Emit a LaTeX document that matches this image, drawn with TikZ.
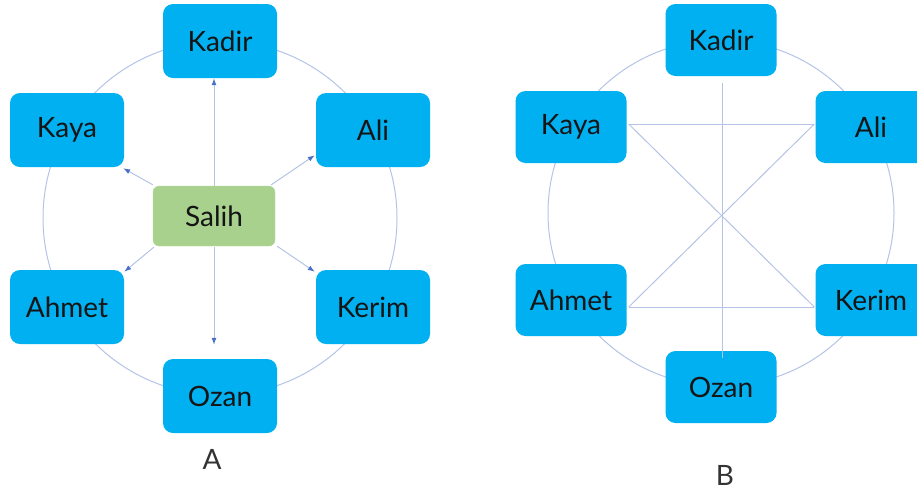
\documentclass[tikz,border=0pt]{standalone}
\usepackage{fontspec}
\setmainfont{Lato}
\usetikzlibrary{arrows.meta,calc}
\definecolor{boxblue}{HTML}{00B0F0}
\definecolor{boxgreen}{HTML}{A9D18E}
\definecolor{linec}{HTML}{B4C3E6}
\definecolor{tipc}{HTML}{4A6FC8}
\definecolor{txt}{HTML}{151515}
\begin{document}
\begin{tikzpicture}[x=1pt,y=-1pt,
  person/.style={fill=boxblue, rounded corners=10pt, minimum width=114pt, minimum height=74pt, inner sep=0pt, font=\fontsize{28}{30}\selectfont, text=txt},
  personB/.style={person, minimum width=111pt, minimum height=72pt},
  center/.style={fill=boxgreen, draw=boxgreen!80!white, rounded corners=6pt, minimum width=122pt, minimum height=60pt, inner sep=0pt, font=\fontsize{28}{30}\selectfont, text=txt},
  ring/.style={draw=linec, line width=1pt},
  link/.style={draw=linec, line width=1pt},
  arr/.style={link, -{Latex[length=7pt,width=5pt,color=tipc]}},
  caption/.style={font=\fontsize{28}{30}\selectfont, text=black!80}]
\useasboundingbox (0,0) rectangle (917,491);
% ---------- A ----------
\draw[ring] (220,218) circle[radius=177];
\node[person] (kadirA) at (220,41) {Kadir};
\node[person] (kayaA) at (67,130) {Kaya};
\node[person] (aliA) at (373,130) {Ali};
\node[person] (ahmetA) at (67,307) {Ahmet};
\node[person] (kerimA) at (373,307) {Kerim};
\node[person] (ozanA) at (220,396) {Ozan};
\node[center] (salih) at (214,216) {Salih};
\draw[arr] (salih.north) -- (salih.north |- kadirA.south);
\draw[arr] ($(salih.south)+(0,1)$) -- ($(salih.south |- ozanA.north)+(0,-14)$);
\draw[arr] ($(salih.north west)+(0,-1)$) -- ($(kayaA.south east)+(-1,1)$);
\draw[arr] ($(salih.north east)+(-4,-1)$) -- ($(aliA.south west)+(-1,-12)$);
\draw[arr] ($(salih.south west)+(1,1)$) -- ($(ahmetA.north east)+(0,2)$);
\draw[arr] ($(salih.south east)+(2,0)$) -- ($(kerimA.north west)+(-1,2)$);
\node[caption] (labA) at (212,459) {A};
% ---------- B ----------
\draw[ring] (721,213) circle[radius=173];
\node[personB] (kadirB) at (721,40) {Kadir};
\node[personB] (kayaB) at (571,127) {Kaya};
\node[personB] (aliB) at (871,127) {Ali};
\node[personB] (ahmetB) at (571,300) {Ahmet};
\node[personB] (kerimB) at (871,300) {Kerim};
\node[personB] (ozanB) at (721,387) {Ozan};
\draw[link] ($(kayaB.east)+(2,-3)$) -- ($(aliB.west)+(-1,-3)$);
\draw[link] ($(ahmetB.east)+(2,7)$) -- ($(kerimB.west)+(-1,7)$);
\draw[link] ($(kayaB.east)+(2,-3)$) -- ($(kerimB.west)+(-1,7)$);
\draw[link] ($(aliB.west)+(-1,-3)$) -- ($(ahmetB.east)+(2,7)$);
\draw[link] ($(kadirB.south)+(1,7)$) -- ($(ozanB.north)+(1,7)$);
\node[caption] (labB) at (725,475) {B};
\end{tikzpicture}
\end{document}
